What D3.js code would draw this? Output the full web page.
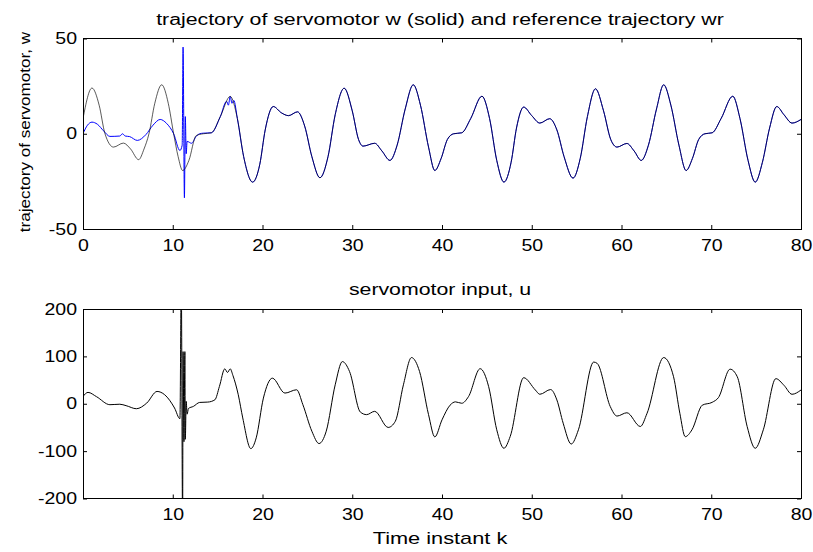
<!DOCTYPE html>
<html>
<head>
<meta charset="utf-8">
<script src="https://cdn.jsdelivr.net/npm/d3@7"></script>
<style>
  body { margin: 0; background: #fff; }
  svg { display: block; font-family: "Liberation Sans", Arial, sans-serif; }
  .tick line { stroke: #000; }
  .tick text { font-size: 16px; fill: #000; }
  .title { font-size: 16px; fill: #000; }
</style>
</head>
<body>
<div id="chart"></div>
<script>
// reference trajectory wr: [k, w]
const wrPoints = [
  [0, 8], [1.0, 24], [1.8, 15], [2.45, 0], [3.4, -7], [4.5, -4.9], [5.3, -8], [6.2, -13.6],
  [6.8, -8], [7.35, 0], [8.0, 16], [8.77, 25.7], [9.5, 16], [10.1, 0], [10.6, -12], [11.1, -19.3],
  [11.8, -14], [12.6, -1], [13.4, 0], [14.3, 0.5], [15.3, 9], [16.4, 19.6], [17.2, 8], [17.9, -12],
  [18.9, -25.4], [19.7, -16], [20.3, 2], [21.2, 14.3], [22.1, 11], [22.9, 9.5], [23.9, 11.5], [24.7, 4],
  [25.5, -12], [26.4, -23.1], [27.3, -12], [28.1, 10], [29.1, 23.9], [30.0, 12], [30.7, -3], [31.2, -6.5],
  [32.5, -5], [33.3, -9], [34.2, -14], [35.0, -6], [35.9, 13], [36.8, 25.7], [37.6, 15], [38.5, -7],
  [39.2, -19.3], [39.9, -13], [40.6, -3], [41.3, 0], [42.2, 0.5], [43.2, 8], [44.45, 19.7], [45.3, 8],
  [46.1, -14], [46.9, -25.4], [47.7, -15], [48.3, 3], [49.1, 14], [50.0, 9.5], [50.9, 5.6], [52.0, 7.9],
  [52.8, 2], [53.6, -12], [54.6, -23.3], [55.4, -13], [56.2, 9], [57.1, 23.6], [58.0, 12], [58.8, -3],
  [59.5, -7], [60.6, -5.1], [61.4, -9], [62.2, -14], [63.0, -6], [63.9, 13], [64.7, 25.7], [65.5, 15],
  [66.4, -6], [67.2, -19.3], [67.9, -13], [68.6, -3], [69.3, 0], [70.1, 0.5], [71.1, 8], [72.4, 19.7],
  [73.2, 8], [74.1, -14], [74.9, -25.4], [75.7, -15], [76.5, 3], [77.3, 14.3], [78.1, 10], [79.0, 5.6],
  [80, 7.5]
];

// servomotor trajectory w until it locks onto wr (after k = 17.5 it is drawn on top of wr)
const wEarly = [
  [0, 0], [0.5, 4.5], [1.0, 6.1], [1.6, 5], [2.3, 1.5], [3.0, -1.4], [4.1, -1.2], [4.4, 0],
  [4.7, -1.2], [5.2, -1.5], [6.05, -3.5], [7.0, -0.5], [7.8, 4.5], [8.6, 7.5], [9.3, 5.5], [10.1, 0],
  [10.8, -8.8], [11.05, -6], [11.15, 45.5], [11.3, -33.6], [11.4, 9], [11.5, -10.5], [11.6, -4],
  [12.1, -5], [12.6, -1.5], [13.0, 0], [13.4, 0.3], [14.3, 0.5], [15.3, 9], [16.0, 17], [16.2, 15],
  [16.4, 19.6], [16.6, 16], [16.8, 17.5], [17.2, 8]
];

// servomotor input u, lower panel
const uPoints = [
  [0, 15.4], [0.56, 24], [1.5, 15], [3.0, -2], [4.1, -1], [4.8, -4], [5.95, -10.5], [7.1, 1.4],
  [8.25, 26], [9.1, 19], [10.2, -9], [10.8, -31.6], [10.95, 260], [11.1, -260], [11.15, 110],
  [11.25, -80], [11.35, 110], [11.4, -75], [11.5, 5], [11.6, -22], [11.75, -10], [12.3, -5.6],
  [13.0, 2.8], [13.9, 3.5], [14.7, 8.4], [15.2, 36.5], [15.8, 73.7], [16.1, 66], [16.4, 73.7],
  [16.7, 60], [17.3, 19], [17.8, -30], [18.7, -94.7], [19.3, -72], [20.1, 12], [21.1, 54],
  [22.5, 22.5], [23.8, 29.5], [24.5, -2], [25.5, -58], [26.3, -84], [27.1, -58], [28.1, 40],
  [28.9, 89], [29.7, 68], [30.9, -17.5], [31.6, -23], [32.5, -16], [34.0, -50], [34.8, -37],
  [35.7, 40], [36.6, 97.5], [37.5, 68], [38.5, -23], [39.2, -70], [40.0, -34], [40.9, -3],
  [41.5, 4], [42.2, 1], [42.95, 15], [44.25, 74], [45.2, 36], [46.1, -55], [46.9, -94],
  [47.6, -69], [49.1, 55], [50.4, 29], [50.9, 20], [52.1, 30], [52.8, 8], [53.5, -41],
  [54.4, -85], [55.2, -55], [56.9, 88], [57.3, 85], [58.75, -6], [59.5, -26], [60.6, -19],
  [62.1, -48], [62.85, -20], [64.7, 97.5], [65.8, 57], [66.5, -20], [67.1, -69.5], [67.85, -55],
  [69.0, -3], [70.1, 3], [70.8, 13], [72.1, 73], [72.9, 57], [74.0, -48], [74.9, -94],
  [75.8, -55], [77.2, 53], [78.1, 39], [79.0, 20], [80, 29]
];

const topXTicks = [0, 10, 20, 30, 40, 50, 60, 70, 80];
const topYTicks = [-50, 0, 50];
const bottomXTicks = [10, 20, 30, 40, 50, 60, 70, 80];
const bottomYTicks = [-200, -100, 0, 100, 200];

const width = 813;
const height = 552;

const svg = d3.select("#chart").append("svg")
    .attr("width", width)
    .attr("height", height);

// the original figure is stretched sideways, so text is widened to match
function stretch(sel, k) {
    sel.each(function () {
        const len = this.getComputedTextLength();
        d3.select(this)
            .attr("textLength", len * k)
            .attr("lengthAdjust", "spacingAndGlyphs");
    });
}

// plain hyphen for negatives, as in the original
const plain = d => String(d);

function drawPanel(o) {
    const x = d3.scaleLinear().domain([0, 80]).range([83, 801]);
    const y = d3.scaleLinear().domain(o.yDomain).range([o.bottom, o.top]);
    const g = svg.append("g");

    g.append("clipPath").attr("id", o.id)
        .append("rect")
        .attr("x", x.range()[0])
        .attr("y", o.top)
        .attr("width", x.range()[1] - x.range()[0])
        .attr("height", o.bottom - o.top);

    const xb = g.append("g")
        .attr("transform", `translate(0,${o.bottom})`)
        .call(d3.axisBottom(x).tickValues(o.xTicks).tickFormat(plain)
            .tickSizeInner(-4).tickSizeOuter(0).tickPadding(10.6));
    g.append("g")
        .attr("transform", `translate(0,${o.top})`)
        .call(d3.axisTop(x).tickValues(o.xTicks).tickSizeInner(-4).tickSizeOuter(0).tickFormat(() => ""));
    const yl = g.append("g")
        .attr("transform", `translate(${x.range()[0]},0)`)
        .call(d3.axisLeft(y).tickValues(o.yTicks).tickFormat(plain)
            .tickSizeInner(-4).tickSizeOuter(0).tickPadding(6));
    g.append("g")
        .attr("transform", `translate(${x.range()[1]},0)`)
        .call(d3.axisRight(y).tickValues(o.yTicks).tickSizeInner(-4).tickSizeOuter(0).tickFormat(() => ""));
    g.selectAll(".domain").remove();
    xb.selectAll("text").call(stretch, 1.22);
    yl.selectAll("text").call(stretch, 1.22);

    const line = d3.line()
        .x(d => x(d[0]))
        .y(d => y(d[1]))
        .curve(d3.curveMonotoneX);

    const plot = g.append("g").attr("clip-path", `url(#${o.id})`);
    o.series.forEach(s => {
        plot.append("path")
            .attr("d", line(s.data))
            .attr("fill", "none")
            .attr("stroke", s.color)
            .attr("stroke-opacity", s.opacity)
            .attr("stroke-width", 1);
    });

    g.append("rect")
        .attr("x", x.range()[0])
        .attr("y", o.top)
        .attr("width", x.range()[1] - x.range()[0])
        .attr("height", o.bottom - o.top)
        .attr("fill", "none")
        .attr("stroke", "#000")
        .attr("shape-rendering", "crispEdges");

    g.append("text")
        .attr("class", "title")
        .attr("x", 440)
        .attr("y", o.top - 14)
        .attr("text-anchor", "middle")
        .text(o.title)
        .call(stretch, 1.33);
}

const wPoints = wEarly.concat(wrPoints.filter(d => d[0] > 17.5));

drawPanel({
    id: "clipTop",
    top: 38.5,
    bottom: 229,
    yDomain: [-50, 50],
    xTicks: topXTicks,
    yTicks: topYTicks,
    title: "trajectory of servomotor w (solid) and reference trajectory wr",
    series: [
        { data: wPoints, color: "#0000ff", opacity: 1 },
        { data: wrPoints, color: "#000", opacity: 0.65 }
    ]
});

drawPanel({
    id: "clipBottom",
    top: 309,
    bottom: 498.5,
    yDomain: [-200, 200],
    xTicks: bottomXTicks,
    yTicks: bottomYTicks,
    title: "servomotor input, u",
    series: [
        { data: uPoints, color: "#000", opacity: 1 }
    ]
});

svg.append("text")
    .attr("x", 440)
    .attr("y", 544)
    .attr("text-anchor", "middle")
    .style("font-size", "17px")
    .text("Time instant k")
    .call(stretch, 1.28);

svg.append("text")
    .attr("transform", "translate(30,132) rotate(-90)")
    .attr("text-anchor", "middle")
    .style("font-size", "14px")
    .text("trajectory of servomotor, w")
    .call(stretch, 1.22);
</script>
</body>
</html>
